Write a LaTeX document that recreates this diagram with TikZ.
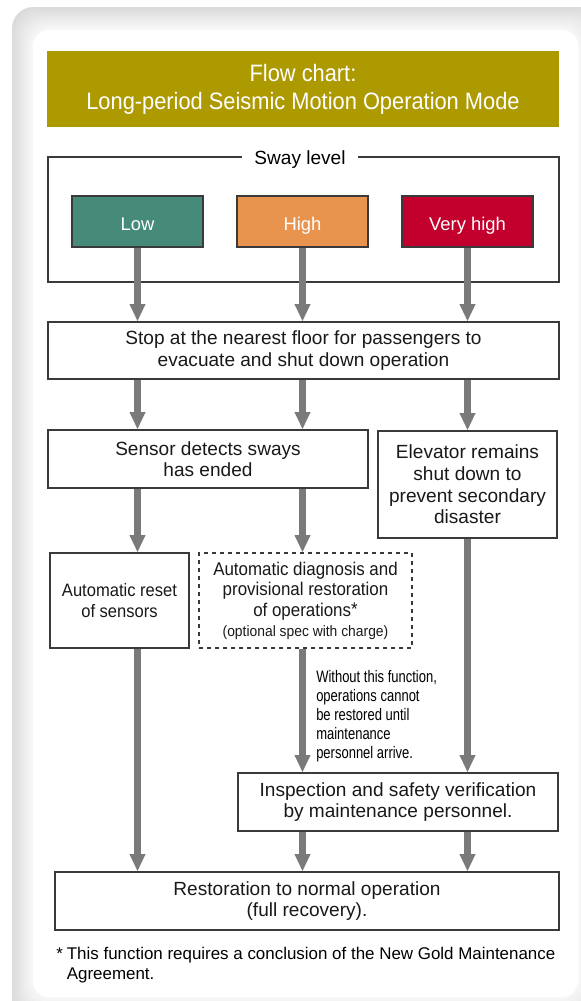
\documentclass[tikz,border=0pt]{standalone}
\usepackage{fontspec}
\setmainfont{Liberation Sans}
\newfontfamily\condfont{Liberation Sans}[FakeStretch=0.92]
\newfontfamily\notefont{Liberation Sans}[FakeStretch=0.78]
\usepackage{xcolor}
\usetikzlibrary{arrows.meta}
\definecolor{titlegold}{HTML}{AD9900}
\definecolor{lowgreen}{HTML}{468B79}
\definecolor{highorange}{HTML}{E8944E}
\definecolor{vhighred}{HTML}{C3002D}
\definecolor{arrowgray}{HTML}{7A7A7A}
\definecolor{linegray}{HTML}{3A3A3A}

\begin{document}
\begin{tikzpicture}[x=0.75pt,y=-0.75pt,>={Triangle[width=11pt,length=13pt]},
	box/.style={draw=linegray,line width=0.8pt,fill=white,align=center,inner sep=2pt,
		font=\fontsize{14.3}{15.9}\selectfont,text=black!90},
	level/.style={draw=linegray,line width=0.8pt,text=white,minimum width=98.25pt,
		minimum height=38.25pt,text height=13pt,text depth=0pt,font=\fontsize{13.8}{16}\selectfont},
	flow/.style={->,line width=5pt,draw=arrowgray}]
	\useasboundingbox (0,0) rectangle (581,1001);
	%card
	\foreach \i in {0,...,10}{
		\pgfmathsetmacro\g{14-1.2*\i}
		\fill[black!\g,rounded corners=16pt] (12+2.1*\i,7+2.3*\i) rectangle (604-2.6*\i,1024-2.7*\i);
	}
	\fill[white,rounded corners=12pt] (33,30) rectangle (578,997);

	\node[fill=titlegold,text=white,minimum width=384pt,minimum height=57pt,align=center,
		font=\condfont\fontsize{17.8}{21}\selectfont] (title) at (303,89)
		{Flow chart:\\ Long-period Seismic Motion Operation Mode};

	%sway level
	\node[draw=linegray,line width=0.8pt,minimum width=383.25pt,minimum height=93.75pt] (sway) at (303.5,219.5) {};
	\node[fill=white,inner xsep=9pt,inner ysep=1pt,font=\fontsize{14.3}{16}\selectfont] (swaylbl) at (300,160) {Sway level};
	\node[level,fill=lowgreen] (low) at (137.5,221.5) {Low};
	\node[level,fill=highorange] (high) at (302.5,221.5) {High};
	\node[level,fill=vhighred] (vhigh) at (467.5,221.5) {Very high};

	\node[box,minimum width=383.25pt,minimum height=42.75pt] (stop) at (303.5,350.5)
		{Stop at the nearest floor for passengers to\\evacuate and shut down operation};
	\node[box,minimum width=240pt,minimum height=43.5pt] (sensor) at (208,459)
		{Sensor detects sways\\has ended};
	\node[box,minimum width=134.25pt,minimum height=80.25pt,font=\fontsize{14.3}{16.3}\selectfont] (elev) at (467.5,484.5)
		{Elevator remains\\shut down to\\prevent secondary\\disaster};
	\node[box,minimum width=104.25pt,minimum height=71.25pt,font=\condfont\fontsize{13.5}{15.9}\selectfont] (reset) at (119.5,600.5)
		{Automatic reset\\of sensors};
	\node[box,dashed,minimum width=159.75pt,minimum height=71.25pt,font=\condfont\fontsize{13.8}{15.6}\selectfont] (diag) at (305.5,600.5)
		{Automatic diagnosis and\\provisional restoration\\of operations\raisebox{1pt}{*}\\[-1pt]
		{\fontsize{11.3}{13}\selectfont(optional spec with charge)}};
	\node[anchor=north west,align=left,inner sep=0pt,font=\notefont\fontsize{12.5}{14.3}\selectfont] (note) at (316,670)
		{Without this function,\\operations cannot\\be restored until\\maintenance\\personnel arrive.};
	\node[box,minimum width=240pt,minimum height=43.5pt] (insp) at (398,802)
		{Inspection and safety verification\\by maintenance personnel.};
	\node[box,minimum width=378pt,minimum height=43.5pt] (rest) at (307,901)
		{Restoration to normal operation\\(full recovery).};

	\node[anchor=north west,inner sep=0pt,align=left,font=\fontsize{12.7}{15}\selectfont] (foot) at (56,945)
		{\begin{tabular}{@{}l@{\hspace{3pt}}l@{}}*&This function requires a conclusion of the New Gold Maintenance\\&Agreement.\end{tabular}};

	%arrows
	\foreach \c in {low,high,vhigh}
		\draw[flow] (\c.south) -- (\c.south |- stop.north);
	\draw[flow] (stop.south -| low) -- (sensor.north -| low);
	\draw[flow] (stop.south -| high) -- (sensor.north -| high);
	\draw[flow] (stop.south -| vhigh) -- (elev.north -| vhigh);
	\draw[flow] (sensor.south -| low) -- (reset.north -| low);
	\draw[flow] (sensor.south -| high) -- (diag.north -| high);
	\draw[flow] (diag.south -| high) -- (insp.north -| high);
	\draw[flow] (elev.south -| vhigh) -- (insp.north -| vhigh);
	\draw[flow] (reset.south -| low) -- (rest.north -| low);
	\draw[flow] (insp.south -| high) -- (rest.north -| high);
	\draw[flow] (insp.south -| vhigh) -- (rest.north -| vhigh);
\end{tikzpicture}
\end{document}
